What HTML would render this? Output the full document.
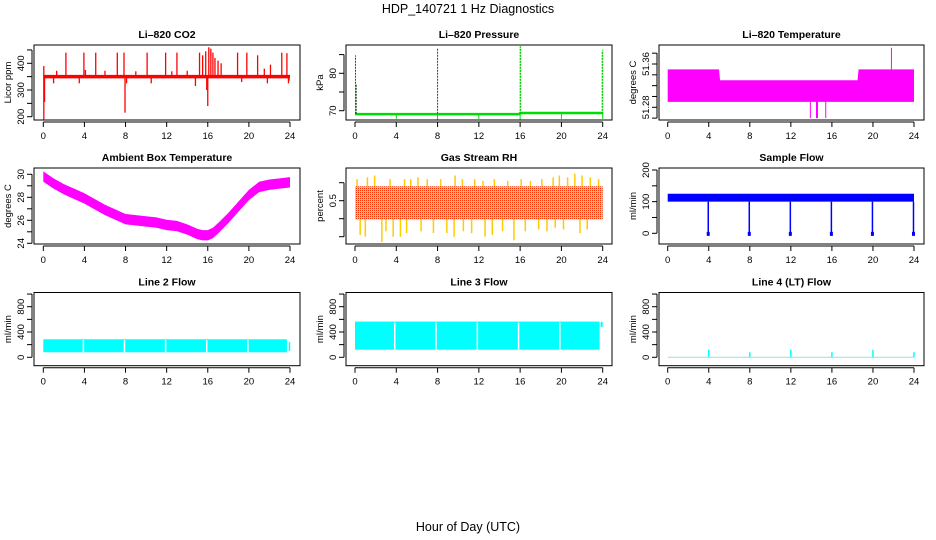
<!DOCTYPE html>
<html><head><meta charset="utf-8">
<style>
html,body{margin:0;padding:0;background:#fff;}
svg{display:block;font-family:"Liberation Sans",Arial,sans-serif;}
</style></head>
<body>
<svg id="chart" width="936" height="540" viewBox="0 0 936 540">
<defs>
<pattern id="rhpat" width="2" height="2" patternUnits="userSpaceOnUse">
<rect width="2" height="2" fill="#ffd200"/>
<rect x="0" y="0" width="1" height="1" fill="#ff3000"/>
</pattern>
</defs>
<text x="468" y="13" text-anchor="middle" font-size="12.5">HDP_140721  1 Hz Diagnostics</text>
<text x="468" y="531" text-anchor="middle" font-size="12.5">Hour of Day (UTC)</text>
</svg>
<script>
// ---------- data ----------
const hourTicks=[0,4,8,12,16,20,24];
// CO2
const co2Baseline=350;
const co2SpikeHours=[0.05,2.2,3.95,4.1,5.1,7.2,7.85,10.1,11.9,13.0,15.2,15.5,15.8,16.1,16.3,16.5,16.7,17.0,17.3,18.9,19.8,20.85,22.1,23.2,23.7,1.3,6.0,9.0,12.5,14.0,21.5,23.9];
const co2SpikeValues=[390,440,440,375,440,440,440,440,440,440,440,430,445,460,455,440,420,410,400,440,440,430,395,440,438,372,372,370,370,372,380,335];
const co2DipHours=[0.05,0.12,1.0,3.5,7.95,8.1,10.5,14.8,15.9,16.0,19.3,21.8,23.85];
const co2DipValues=[190,255,325,325,215,325,325,315,300,240,330,325,325];
// Pressure
const pressBaseHours=[0,15.95,16.0,24];
const pressBaseValues=[69.1,69.1,69.4,69.4];
const pressSpikeHours=[0.05,0.12,8.0,16.0,16.05,23.95,24.0];
const pressSpikeValues=[84.8,77,86.6,87.2,87.2,86.0,86.3];
const pressDipHours=[4,8,12,16,20,24];
const pressDipValues=[67.8,67.6,67.8,67.6,67.8,67.8];
// Li-820 temperature
const tempHours=[0,5,5.1,18.5,18.6,24];
const tempTopValues=[51.35,51.35,51.33,51.33,51.35,51.35];
const tempBottomValues=[51.29,51.29,51.29,51.29,51.29,51.29];
const tempSpikeHours=[21.8,13.9,14.5,14.6,15.4];
const tempSpikeValues=[51.39,51.26,51.26,51.26,51.26];
// Ambient box temperature
const ambHours=[0,1,2,3,4,5,6,7,8,9,10,11,12,13,14,15,15.5,16,16.5,17,18,19,20,21,22,23,24];
const ambValues=[29.8,29.2,28.7,28.3,27.9,27.4,26.9,26.5,26.1,26.0,25.9,25.8,25.6,25.5,25.2,24.8,24.7,24.7,24.9,25.3,26.2,27.2,28.2,28.9,29.1,29.2,29.3];
const ambHalfWidth=0.45;
// Gas stream RH
const rhLow=-0.02, rhHigh=0.9;
const rhUpHours=[0.2,1.2,1.9,3.4,4.8,5.4,6.1,7.0,8.3,9.7,10.4,11.6,12.4,13.5,14.8,16.1,17.0,18.1,19.2,19.8,20.6,21.3,22.0,22.8,23.6];
const rhUpValues=[1.1,1.15,1.2,1.1,1.1,1.1,1.15,1.1,1.1,1.2,1.1,1.1,1.05,1.1,1.05,1.1,1.05,1.1,1.15,1.2,1.15,1.25,1.2,1.15,1.1];
const rhDownHours=[0.5,1.0,2.6,3.0,3.7,4.4,5.0,6.4,7.6,8.9,9.6,10.5,11.3,12.6,13.3,14.3,15.4,16.5,17.8,18.6,19.4,20.2,21.8,22.5];
const rhDownValues=[-0.45,-0.5,-0.65,-0.35,-0.5,-0.5,-0.4,-0.35,-0.4,-0.4,-0.5,-0.35,-0.4,-0.5,-0.45,-0.35,-0.6,-0.35,-0.3,-0.35,-0.25,-0.3,-0.4,-0.3];
// Sample flow
const sfLow=100, sfHigh=125;
const sfDropHours=[3.95,7.95,11.95,15.95,19.95,23.95];
const sfDropValues=[-5,-5,-5,-5,-5,-5];
// Line flows
const l2Low=80, l2High=285, l2End=23.7;
const l2GapHours=[3.9,7.9,11.9,15.9,19.9];
const l3Low=120, l3High=565, l3End=23.7;
const l3GapHours=[3.85,7.85,11.85,15.85,19.85];
const l4SpikeHours=[4,8,12,16,20,24];
const l4SpikeValues=[120,80,120,80,120,80];
</script>
<script>
const svg=document.getElementById('chart');
const NS='http://www.w3.org/2000/svg';
function mk(tag,attrs,parent){const e=document.createElementNS(NS,tag);for(const k in attrs)e.setAttribute(k,attrs[k]);(parent||svg).appendChild(e);return e;}
const colL=[34,346,659],colR=[300,612,924],colX0=[43.3,355,667.7],colX24=[290,602.7,914];
const rowT=[45,168,292.5],rowB=[120,244,365.7];
function lin(d0,r0,d1,r1){return v=>r0+(v-d0)*(r1-r0)/(d1-d0);}
function panel(c,r,name,title,ylab,ya,yb,ticks,labels){
  const g=mk('g',{});
  
  
  const sx=lin(0,colX0[c],24,colX24[c]);
  const sy=lin(ya[0],ya[1],yb[0],yb[1]);
  const L=colL[c],R=colR[c],T=rowT[r],B=rowB[r];
  const clip=mk('clipPath',{id:'clip'+name},g);mk('rect',{x:L,y:T,width:R-L,height:B-T},clip);
  const plot=mk('g',{'clip-path':'url(#clip'+name+')'},g);
  
  
  const box=mk('rect',{x:L,y:T,width:R-L,height:B-T,fill:'none',stroke:'#000','stroke-width':1},g);
  
  
  const t=mk('text',{x:(L+R)/2,y:T-7,'text-anchor':'middle','font-size':10.5,'font-weight':'bold'},g);t.textContent=title;
  
  
  const yl=mk('text',{x:0,y:0,'text-anchor':'middle','font-size':9.5,transform:`translate(${L-23},${(T+B)/2}) rotate(-90)`},g);yl.textContent=ylab;
  
  
  hourTicks.forEach(h=>{const x=sx(h);mk('line',{x1:x,x2:x,y1:B+2,y2:B+7,stroke:'#000'},g);
    const tl=mk('text',{x:x,y:B+19,'text-anchor':'middle','font-size':9.5},g);tl.textContent=h;
    
    });
  mk('line',{x1:sx(0),x2:sx(24),y1:B+2,y2:B+2,stroke:'#000'},g);
  const yt=ticks.map(sy);
  mk('line',{x1:L-2,x2:L-2,y1:Math.min(...yt),y2:Math.max(...yt),stroke:'#000'},g);
  ticks.forEach(v=>{mk('line',{x1:L-7,x2:L-2,y1:sy(v),y2:sy(v),stroke:'#000'},g);});
  labels.forEach(v=>{const tl=mk('text',{x:0,y:0,'text-anchor':'middle','font-size':9.5,transform:`translate(${L-10},${sy(v)}) rotate(-90)`},g);tl.textContent=v;
    
    });
  return {plot,sx,sy};
}
function vseg(p,x,y1,y2,col,w){return mk('line',{x1:x,x2:x,y1:y1,y2:y2,stroke:col,'stroke-width':w||1},p);}
function bandPath(xs,tops,bots,sx,sy){let d='M'+xs.map((h,i)=>sx(h)+','+sy(tops[i])).join('L');
  for(let i=xs.length-1;i>=0;i--)d+='L'+sx(xs[i])+','+sy(bots[i]);return d+'Z';}

// P1 CO2
(function(){const P=panel(0,0,'co2-panel','Li\u2013820 CO2','Licor ppm',[200,116.7],[400,63.3],[200,250,300,350,400,450],[200,300,400]);
 const b=mk('line',{x1:P.sx(0),x2:P.sx(24),y1:P.sy(co2Baseline),y2:P.sy(co2Baseline),stroke:'#ff0000','stroke-width':3.5},P.plot);
 
 co2SpikeHours.forEach((h,i)=>{const l=vseg(P.plot,P.sx(h),P.sy(co2Baseline),P.sy(co2SpikeValues[i]),'#ff0000',1.3);
  });
 co2DipHours.forEach((h,i)=>{const l=vseg(P.plot,P.sx(h),P.sy(co2Baseline),P.sy(co2DipValues[i]),'#ff0000',1.3);
  });
})();
// P2 Pressure
(function(){const P=panel(1,0,'pressure-panel','Li\u2013820 Pressure','kPa',[70,110.7],[80,73.3],[70,75,80,85],[70,80]);
 const pl=mk('polyline',{points:pressBaseHours.map((h,i)=>P.sx(h)+','+P.sy(pressBaseValues[i])).join(' '),fill:'none',stroke:'#00dd00','stroke-width':2.5},P.plot);
 
 pressSpikeHours.forEach((h,i)=>{const l=vseg(P.plot,P.sx(h),P.sy(69.2),P.sy(pressSpikeValues[i]),h>15?'#00cc00':'#225522',1);l.setAttribute('stroke-dasharray','2 1');
  });
 pressDipHours.forEach((h,i)=>{const l=vseg(P.plot,P.sx(h),P.sy(69.2),P.sy(pressDipValues[i]),'#00dd00',1);
  });
})();
// P3 Li-820 temperature
(function(){const P=panel(2,0,'li820-temp-panel','Li\u2013820 Temperature','degrees C',[51.28,107.3],[51.36,64],[51.26,51.28,51.30,51.32,51.34,51.36,51.38],['51.28','51.36']);
 let d='';for(let i=0;i<tempHours.length;i++)d+=(i?'L':'M')+P.sx(tempHours[i])+','+P.sy(tempTopValues[i]);
 for(let i=tempHours.length-1;i>=0;i--)d+='L'+P.sx(tempHours[i])+','+P.sy(tempBottomValues[i]);
 const p=mk('path',{d:d+'Z',fill:'#ff00ff'},P.plot);
 tempSpikeHours.forEach((h,i)=>{const l=vseg(P.plot,P.sx(h),P.sy(51.31),P.sy(tempSpikeValues[i]),'#ff00ff',1);
  });
})();
// P4 Ambient
(function(){const P=panel(0,1,'ambient-temp-panel','Ambient Box Temperature','degrees C',[24,243.3],[30,174.3],[24,25,26,27,28,29,30],[24,26,28,30]);
 const p=mk('path',{d:bandPath(ambHours,ambValues.map(v=>v+ambHalfWidth),ambValues.map(v=>v-ambHalfWidth),P.sx,P.sy),fill:'#ff00ff'},P.plot);
 
})();
// P5 RH
(function(){const P=panel(1,1,'rh-panel','Gas Stream RH','percent',[-0.5,236.7],[0.5,200.7],[-0.5,0,0.5,1.0],['\u22120.5','0.5']);
 rhUpHours.forEach((h,i)=>{const l=vseg(P.plot,P.sx(h),P.sy(0.5),P.sy(rhUpValues[i]),'#ffcc00',1.5);
  });
 rhDownHours.forEach((h,i)=>{const l=vseg(P.plot,P.sx(h),P.sy(0.5),P.sy(rhDownValues[i]),'#ffcc00',1.5);
  });
 const r=mk('rect',{x:P.sx(0),y:P.sy(rhHigh),width:P.sx(24)-P.sx(0),height:P.sy(rhLow)-P.sy(rhHigh),fill:'url(#rhpat)'},P.plot);
 
})();
// P6 Sample flow
(function(){const P=panel(2,1,'sample-flow-panel','Sample Flow','ml/min',[0,233.3],[200,170],[0,50,100,150,200],[0,100,200]);
 const r=mk('rect',{x:P.sx(0),y:P.sy(sfHigh),width:P.sx(24)-P.sx(0),height:P.sy(sfLow)-P.sy(sfHigh),fill:'#0000ff'},P.plot);
 
 sfDropHours.forEach((h,i)=>{const l=vseg(P.plot,P.sx(h),P.sy(sfLow),P.sy(sfDropValues[i]),'#0000ff',1.5);
  
  const m=mk('rect',{x:P.sx(h)-1.5,y:P.sy(sfDropValues[i])-3,width:3,height:4,fill:'#0000ff'},P.plot);
  });
})();
// P7-P9 line flows
const lfTicks=[0,200,400,600,800,1000],lfLabels=[0,400,800];
function flowBand(P,lo,hi,end,gaps,nm){const r=mk('rect',{x:P.sx(0),y:P.sy(hi),width:P.sx(end)-P.sx(0),height:P.sy(lo)-P.sy(hi),fill:'#00ffff'},P.plot);
 
 gaps.forEach(h=>{const l=vseg(P.plot,P.sx(h),P.sy(hi)+1,P.sy(lo),'#ffffff',1.5);
  });}
(function(){const P=panel(0,2,'line2-flow-panel','Line 2 Flow','ml/min',[0,357.3],[800,306.7],lfTicks,lfLabels);
 flowBand(P,l2Low,l2High,l2End,l2GapHours,'line2-flow');
 vseg(P.plot,P.sx(23.95),P.sy(100),P.sy(240),'#00ffff',1.5);})();
(function(){const P=panel(1,2,'line3-flow-panel','Line 3 Flow','ml/min',[0,357.3],[800,306.7],lfTicks,lfLabels);
 flowBand(P,l3Low,l3High,l3End,l3GapHours,'line3-flow');
 vseg(P.plot,P.sx(23.9),P.sy(480),P.sy(560),'#00ffff',2);})();
(function(){const P=panel(2,2,'line4-flow-panel','Line 4 (LT) Flow','ml/min',[0,357.3],[800,306.7],lfTicks,lfLabels);
 const b=mk('line',{x1:P.sx(0),x2:P.sx(24),y1:P.sy(0),y2:P.sy(0),stroke:'#9fdede','stroke-width':1},P.plot);
 
 l4SpikeHours.forEach((h,i)=>{const l=vseg(P.plot,P.sx(h),P.sy(0),P.sy(l4SpikeValues[i]),'#00ffff',1.5);
  });})();
</script>
</body></html>
